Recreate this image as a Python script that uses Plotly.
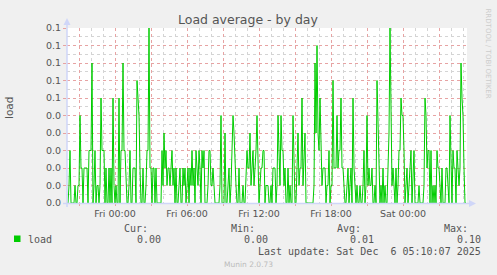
import plotly.graph_objects as go
import pandas as pd

# ---------------- data ----------------
start_time = "2025-12-04 20:00:00"   # Thu 20:00, 5-minute steps
step_minutes = 5

load_seg1 = [0, 0, 0.01, 0.03, 0, 0, 0, 0, 0.01, 0,
             0, 0.01, 0.01, 0.05, 0.02, 0.02, 0, 0.02, 0.02, 0.02,
             0.02, 0, 0.03, 0.03, 0.03, 0.08, 0, 0.01, 0.03, 0,
             0.01, 0.01, 0, 0.01, 0.06, 0.03, 0.03, 0.03, 0, 0.02,
             0, 0, 0.02, 0, 0.02, 0, 0.06, 0.01, 0, 0.01,
             0, 0, 0.06, 0, 0.03, 0.03, 0.08, 0.03, 0.03, 0.01,
             0, 0, 0.01, 0.03, 0, 0, 0.02]
load_seg2 = [0.02, 0.02, 0, 0.07, 0.06, 0.05, 0.02, 0, 0, 0.02,
             0, 0, 0.01, 0.03, 0.03, 0.10, 0.02, 0.02, 0, 0.02,
             0.02, 0, 0.02, 0, 0, 0, 0, 0, 0.03, 0.01,
             0.04, 0.02, 0.03, 0.01, 0.02, 0.02, 0.01, 0.02, 0.03, 0.01,
             0.02, 0, 0.02, 0, 0, 0.01, 0.02, 0, 0, 0.02,
             0.01, 0.02, 0, 0.01, 0.02, 0, 0.02, 0.01, 0.03, 0.01,
             0.02, 0, 0.03, 0.02, 0.01, 0.03, 0.02, 0, 0.03, 0.02]
load_seg3 = [0.03, 0, 0, 0, 0.01, 0.03, 0.03, 0.01, 0.01, 0.02,
             0.01, 0, 0, 0, 0, 0, 0.01, 0.05, 0, 0,
             0, 0.04, 0, 0, 0.01, 0.02, 0, 0.01, 0.03, 0.05,
             0.04, 0.02, 0.01, 0, 0, 0.02, 0, 0, 0, 0.01,
             0, 0, 0.02, 0.03, 0.02, 0.02, 0.04, 0.01, 0.02, 0.03,
             0.01, 0.02, 0.03, 0.05, 0.01, 0, 0.01, 0.02, 0.02, 0.03,
             0.03, 0, 0.01, 0.01, 0.01, 0, 0, 0.01, 0, 0.02]
load_seg4 = [0.02, 0.02, 0, 0.01, 0.05, 0.02, 0.01, 0.05, 0.03, 0.03,
             0.01, 0.02, 0, 0, 0.02, 0, 0.01, 0, 0, 0.05,
             0.03, 0, 0, 0.02, 0.04, 0.01, 0.02, 0.02, 0.06, 0.01,
             0.03, 0.04, 0, 0, 0, 0, 0, 0, 0, 0,
             0.01, 0.08, 0.04, 0.09, 0.04, 0.03, 0.06, 0.02, 0.01, 0.02,
             0.02, 0.02, 0, 0.01, 0.01, 0.03, 0, 0.01, 0.01, 0.07,
             0.02, 0.02, 0.02, 0.05, 0.02, 0.03, 0.03, 0.06, 0.02, 0.02]
load_seg5 = [0.01, 0, 0, 0.01, 0.02, 0, 0.01, 0.02, 0, 0.06,
             0.02, 0.01, 0, 0.01, 0, 0, 0.01, 0, 0, 0.01,
             0.03, 0, 0.01, 0.05, 0.01, 0.02, 0.01, 0.01, 0.02, 0,
             0, 0.01, 0, 0.07, 0.04, 0.02, 0, 0.01, 0, 0.02,
             0, 0.01, 0, 0, 0.02, 0.04, 0.10, 0.03, 0.01, 0.02,
             0.01, 0, 0.02, 0, 0.01, 0.03, 0.03, 0.06, 0.05, 0.05,
             0.03, 0, 0.01, 0.02, 0, 0.01, 0.02, 0.03, 0, 0.02]
load_seg6 = [0.03, 0, 0, 0, 0, 0.01, 0, 0, 0, 0,
             0.01, 0.06, 0.05, 0.02, 0.03, 0.03, 0, 0.03, 0, 0.01,
             0, 0.01, 0, 0.03, 0.02, 0.02, 0.01, 0, 0.02, 0,
             0, 0, 0.02, 0.02, 0.01, 0, 0.05, 0.01, 0, 0.03,
             0.02, 0.02, 0, 0.03, 0.02, 0.01, 0.02, 0.08, 0.06, 0.05,
             0.02, 0, 0]

y_tick_values = [0, 0.01, 0.02, 0.03, 0.04, 0.05, 0.06, 0.07, 0.08, 0.09, 0.10]
y_tick_labels = ["0.0", "0.0", "0.0", "0.0", "0.0", "0.0", "0.1", "0.1", "0.1", "0.1", "0.1"]

x_grid_times = ["2025-12-04 21:00", "2025-12-05 00:00", "2025-12-05 03:00", "2025-12-05 06:00",
                "2025-12-05 09:00", "2025-12-05 12:00", "2025-12-05 15:00", "2025-12-05 18:00",
                "2025-12-05 21:00", "2025-12-06 00:00", "2025-12-06 03:00"]
x_grid_labels = ["", "Fri 00:00", "", "Fri 06:00", "", "Fri 12:00", "", "Fri 18:00", "", "Sat 00:00", ""]
x_range = ["2025-12-04 20:00", "2025-12-06 05:20"]

legend_name = "load"
stat_headers = ["Cur:", "Min:", "Avg:", "Max:"]
stat_values = ["0.00", "0.00", "0.01", "0.10"]
last_update = "Last update: Sat Dec  6 05:10:07 2025"

# ---------------- figure ----------------
load_values = load_seg1 + load_seg2 + load_seg3 + load_seg4 + load_seg5 + load_seg6
times = pd.date_range(start_time, periods=len(load_values), freq=f"{step_minutes}min")

W, H = 497, 275
L, R, T, B = 67, 30, 28, 72
PW, PH = W - L - R, H - T - B

def px(x):
    return (x - L) / PW

def py(y):
    return (H - B - y) / PH

FONT = "DejaVu Sans"
MONO = "DejaVu Sans Mono"
TXT = "#555555"
AXIS = "#CFD6F8"

fig = go.Figure()
fig.add_trace(go.Scatter(x=times, y=load_values, mode="lines",
                         line=dict(color="#00cc00", width=1), hoverinfo="skip",
                         showlegend=False))

fig.update_layout(
    width=W, height=H,
    margin=dict(l=L, r=R, t=T, b=B),
    paper_bgcolor="#f0f0f0", plot_bgcolor="#ffffff",
    showlegend=False,
    font=dict(family=FONT, size=9.5, color=TXT),
)

fig.update_xaxes(
    type="date", range=x_range,
    tickmode="array", tickvals=x_grid_times, ticktext=x_grid_labels,
    showgrid=True, gridcolor="#e7a3a3", griddash="dot", gridwidth=1,
    ticks="outside", ticklen=2, tickcolor="#e7a3a3",
    tickfont=dict(family=FONT, size=9.5, color=TXT),
    minor=dict(dtick=3600000, tick0="2025-12-04 20:00", showgrid=True,
               gridcolor="#d4d4d4", griddash="dot", gridwidth=1),
    showline=False, zeroline=False, fixedrange=True,
)
fig.update_yaxes(
    range=[0, 0.1],
    tickmode="array", tickvals=y_tick_values, ticktext=y_tick_labels,
    showgrid=True, gridcolor="#e7a3a3", griddash="dot", gridwidth=1,
    ticks="outside", ticklen=3, tickcolor="#e7a3a3",
    tickfont=dict(family=FONT, size=9.5, color=TXT),
    minor=dict(dtick=0.005, showgrid=True, gridcolor="#d4d4d4", griddash="dot", gridwidth=1),
    showline=False, zeroline=False, fixedrange=True,
)

shapes = []
# axis lines
shapes.append(dict(type="line", xref="paper", yref="paper", x0=px(63), x1=px(470), y0=py(203.5), y1=py(203.5),
                   line=dict(color=AXIS, width=1.5)))
shapes.append(dict(type="line", xref="paper", yref="paper", x0=px(67), x1=px(67), y0=py(207), y1=py(22),
                   line=dict(color=AXIS, width=1.5)))
# arrows
shapes.append(dict(type="path", xref="paper", yref="paper",
                   path=f"M {px(63.5)} {py(25)} L {px(70.5)} {py(25)} L {px(67)} {py(18)} Z",
                   fillcolor=AXIS, line=dict(color=AXIS, width=0)))
shapes.append(dict(type="path", xref="paper", yref="paper",
                   path=f"M {px(469)} {py(200)} L {px(469)} {py(207)} L {px(476)} {py(203.5)} Z",
                   fillcolor=AXIS, line=dict(color=AXIS, width=0)))
# legend swatch
shapes.append(dict(type="rect", xref="paper", yref="paper", x0=px(14), x1=px(20.5), y0=py(242), y1=py(235.5),
                   fillcolor="#00cc00", line=dict(width=0)))
fig.update_layout(shapes=shapes)

ann = []
ann.append(dict(text="Load average - by day", x=px(248), y=py(20), xref="paper", yref="paper",
                showarrow=False, xanchor="center", yanchor="middle",
                font=dict(family=FONT, size=12.5, color=TXT)))
ann.append(dict(text="load", x=px(9), y=py(108), xref="paper", yref="paper", textangle=-90,
                showarrow=False, xanchor="center", yanchor="middle",
                font=dict(family=FONT, size=10.5, color=TXT)))
ann.append(dict(text="RRDTOOL / TOBI OETIKER", x=px(487.5), y=py(53), xref="paper", yref="paper", textangle=90,
                showarrow=False, xanchor="center", yanchor="middle",
                font=dict(family=FONT, size=7, color="#cccccc")))
header_right = [150, 257, 363, 470]
value_right = [163, 270, 376, 483]
for h, xr in zip(stat_headers, header_right):
    ann.append(dict(text=h, x=px(xr), y=py(228), xref="paper", yref="paper", showarrow=False,
                    xanchor="right", yanchor="middle", font=dict(family=MONO, size=10, color=TXT)))
for v, xr in zip(stat_values, value_right):
    ann.append(dict(text=v, x=px(xr), y=py(239.5), xref="paper", yref="paper", showarrow=False,
                    xanchor="right", yanchor="middle", font=dict(family=MONO, size=10, color=TXT)))
ann.append(dict(text=legend_name, x=px(26), y=py(239.5), xref="paper", yref="paper", showarrow=False,
                xanchor="left", yanchor="middle", font=dict(family=MONO, size=10, color=TXT)))
ann.append(dict(text=last_update.replace("  ", "&nbsp; "), x=px(483), y=py(251.5), xref="paper", yref="paper",
                showarrow=False, xanchor="right", yanchor="middle",
                font=dict(family=MONO, size=10, color=TXT)))
ann.append(dict(text="Munin 2.0.73", x=px(248), y=py(264), xref="paper", yref="paper", showarrow=False,
                xanchor="center", yanchor="middle", font=dict(family=FONT, size=7.5, color="#bbbbbb")))
fig.update_layout(annotations=ann)

fig.write_html("out.html")
